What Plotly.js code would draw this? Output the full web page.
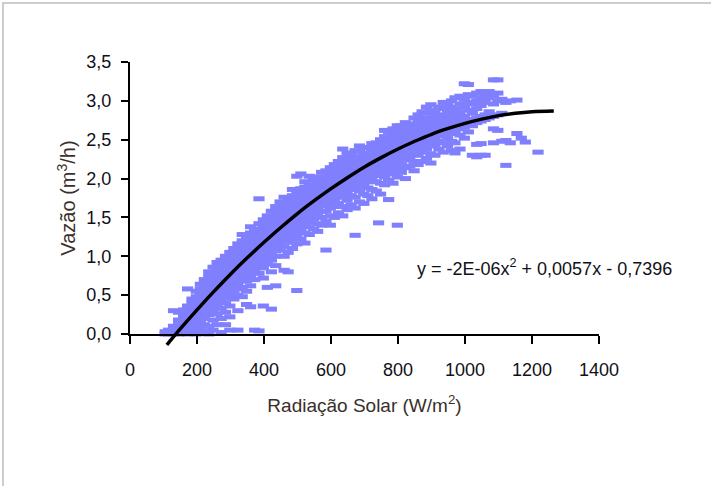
<!DOCTYPE html>
<html>
<head>
<meta charset="utf-8">
<script src="https://cdn.plot.ly/plotly-3.0.1.min.js"></script>
<style>
  html, body { margin: 0; padding: 0; background: #ffffff; }
  #wrap { position: relative; width: 711px; height: 486px; }
  #chart { width: 711px; height: 486px; }
  #frame { position: absolute; left: 2px; top: 2px; width: 709px; height: 484px;
           border-top: 2px solid #cdcdcd; border-left: 2px solid #cdcdcd;
           box-sizing: border-box; pointer-events: none; }
</style>
</head>
<body>
<div id="wrap"><div id="chart"></div><div id="frame"></div></div>
<script>
// Observed data columns: radiation value (W/m2) and the flow values measured there (m3/h)
const radiacao = [105,115,130,145,160,172,185,198,210,222,235,248,260,272,285,298,310,322,335,348,360,372,385,398,410,422,435,448,460,472,485,498,510,522,535,548,560,572,585,598,610,622,635,648,660,672,685,698,710,722,735,742,748,760,772,785,798,810,822,835,848,860,872,885,898,910,922,935,948,960,970,985,998,1010,1022,1035,1048,1060,1072,1085,1098,1110,1122,1135,1155,1168,1180,1218];
const vazao = [
  [0.0,0.03],
  [0.05,0.0],
  [0.0,0.04,0.10,0.30],
  [0.0,0.05,0.12,0.18,0.28],
  [0.02,0.08,0.14,0.20,0.25,0.31],
  [0.0,0.06,0.12,0.18,0.24,0.30,0.36,0.58],
  [0.02,0.10,0.16,0.22,0.28,0.34,0.40,0.45],
  [0.0,0.05,0.12,0.18,0.24,0.30,0.36,0.42,0.48,0.55],
  [0.02,0.08,0.15,0.22,0.28,0.34,0.40,0.46,0.52,0.58,0.64],
  [0.04,0.12,0.20,0.27,0.33,0.39,0.45,0.51,0.57,0.63,0.70],
  [0.0,0.10,0.25,0.32,0.38,0.44,0.50,0.56,0.62,0.68,0.74,0.80],
  [0.05,0.18,0.30,0.37,0.43,0.49,0.55,0.61,0.67,0.73,0.79,0.86],
  [0.12,0.26,0.36,0.42,0.48,0.54,0.60,0.66,0.72,0.78,0.84,0.92],
  [0.02,0.20,0.33,0.45,0.51,0.57,0.63,0.69,0.75,0.81,0.87,0.95],
  [0.12,0.28,0.40,0.50,0.56,0.62,0.68,0.74,0.80,0.86,0.92,1.00],
  [0.05,0.22,0.36,0.46,0.55,0.61,0.67,0.73,0.79,0.85,0.91,0.97,1.05],
  [0.45,0.52,0.60,0.66,0.72,0.78,0.84,0.90,0.96,1.02,1.10],
  [0.05,0.30,0.50,0.58,0.65,0.71,0.77,0.83,0.89,0.95,1.01,1.08,1.16],
  [0.48,0.60,0.70,0.76,0.82,0.88,0.94,1.00,1.06,1.12,1.20,1.28],
  [0.38,0.55,0.68,0.75,0.81,0.87,0.93,0.99,1.05,1.11,1.17,1.25],
  [0.35,0.62,0.74,0.80,0.86,0.92,0.98,1.04,1.10,1.16,1.22,1.30,1.38],
  [0.05,0.70,0.80,0.86,0.92,0.98,1.04,1.10,1.16,1.22,1.28,1.35],
  [0.04,0.78,0.86,0.92,0.98,1.04,1.10,1.16,1.22,1.28,1.34,1.42,1.74],
  [0.36,0.72,0.85,0.92,0.98,1.04,1.10,1.16,1.22,1.28,1.34,1.40,1.47],
  [0.60,0.90,0.98,1.04,1.10,1.16,1.22,1.28,1.34,1.40,1.46,1.52],
  [0.32,0.80,0.95,1.02,1.08,1.14,1.20,1.26,1.32,1.38,1.44,1.50,1.58],
  [0.62,0.88,1.00,1.07,1.13,1.19,1.25,1.31,1.37,1.43,1.49,1.56,1.64],
  [1.08,1.15,1.21,1.27,1.33,1.39,1.45,1.51,1.57,1.63,1.70],
  [0.82,1.00,1.12,1.19,1.25,1.31,1.37,1.43,1.49,1.55,1.61,1.68,1.76],
  [0.80,1.05,1.18,1.24,1.30,1.36,1.42,1.48,1.54,1.60,1.66,1.73],
  [1.10,1.22,1.28,1.34,1.40,1.46,1.52,1.58,1.64,1.70,1.78,1.86],
  [0.56,1.16,1.26,1.33,1.39,1.45,1.51,1.57,1.63,1.69,1.75,1.82,2.03],
  [1.22,1.32,1.38,1.44,1.50,1.56,1.62,1.68,1.74,1.80,1.87,2.06],
  [1.17,1.30,1.40,1.46,1.52,1.58,1.64,1.70,1.76,1.82,1.89,1.96],
  [1.28,1.38,1.44,1.50,1.56,1.62,1.68,1.74,1.80,1.86,1.92,2.03],
  [1.35,1.48,1.55,1.61,1.67,1.73,1.79,1.85,1.91,1.98],
  [1.32,1.42,1.52,1.59,1.65,1.71,1.77,1.83,1.89,1.95,2.02],
  [1.40,1.50,1.58,1.65,1.71,1.77,1.83,1.89,1.95,2.01,2.08],
  [1.08,1.45,1.58,1.66,1.72,1.78,1.84,1.90,1.96,2.02,2.10],
  [1.40,1.52,1.62,1.70,1.76,1.82,1.88,1.94,2.00,2.06,2.14],
  [1.50,1.64,1.74,1.80,1.86,1.92,1.98,2.04,2.10,2.18],
  [1.56,1.68,1.78,1.84,1.90,1.96,2.02,2.08,2.14,2.22],
  [1.52,1.64,1.76,1.83,1.89,1.95,2.01,2.07,2.13,2.20,2.27,2.38],
  [1.60,1.72,1.82,1.88,1.94,2.00,2.06,2.12,2.18,2.25,2.33],
  [1.66,1.78,1.86,1.93,1.99,2.05,2.11,2.17,2.23,2.30],
  [1.27,1.62,1.76,1.86,1.92,1.98,2.04,2.10,2.16,2.22,2.28,2.36],
  [1.70,1.84,1.92,1.98,2.04,2.10,2.16,2.22,2.28,2.35,2.42],
  [1.68,1.80,1.90,1.97,2.03,2.09,2.15,2.21,2.27,2.33,2.40],
  [1.78,1.88,1.96,2.02,2.08,2.14,2.20,2.26,2.32,2.40],
  [1.74,1.86,1.96,2.02,2.08,2.14,2.20,2.26,2.32,2.38,2.45],
  [1.84,1.96,2.04,2.10,2.16,2.22,2.28,2.34,2.40,2.46],
  [1.43],
  [1.80,1.94,2.04,2.12,2.18,2.24,2.30,2.36,2.42,2.50],
  [1.92,2.02,2.10,2.16,2.22,2.28,2.34,2.40,2.46,2.54,2.62],
  [1.73,1.98,2.08,2.16,2.22,2.28,2.34,2.40,2.46,2.52,2.60],
  [1.94,2.06,2.14,2.22,2.28,2.34,2.40,2.46,2.52,2.58,2.64],
  [1.40,2.02,2.12,2.20,2.26,2.32,2.38,2.44,2.50,2.56,2.62,2.68],
  [2.08,2.18,2.26,2.32,2.38,2.44,2.50,2.56,2.62,2.68],
  [2.00,2.14,2.24,2.30,2.36,2.42,2.48,2.54,2.60,2.66,2.72],
  [2.16,2.26,2.34,2.40,2.46,2.52,2.58,2.64,2.70],
  [2.10,2.22,2.32,2.40,2.46,2.52,2.58,2.64,2.70,2.78],
  [2.18,2.30,2.38,2.44,2.50,2.56,2.62,2.68,2.74,2.82],
  [2.22,2.34,2.42,2.48,2.54,2.60,2.66,2.72,2.78,2.86],
  [2.26,2.38,2.46,2.52,2.58,2.64,2.70,2.76,2.84,2.92],
  [2.20,2.32,2.44,2.52,2.58,2.64,2.70,2.78,2.88,2.95],
  [2.30,2.42,2.50,2.56,2.62,2.68,2.74,2.80,2.86],
  [2.38,2.48,2.56,2.62,2.68,2.74,2.82,2.92],
  [2.34,2.46,2.55,2.61,2.67,2.73,2.80,2.90,2.98],
  [2.42,2.52,2.60,2.66,2.72,2.78,2.86,2.94],
  [2.36,2.48,2.58,2.64,2.70,2.76,2.84,2.92,3.00],
  [2.33,2.46,2.60,2.66,2.72,2.80,2.90,3.04],
  [2.38,2.56,2.64,2.70,2.76,2.86,2.96,3.06],
  [2.52,2.66,2.72,2.80,2.92,3.02,3.22],
  [2.60,2.70,2.76,2.88,2.98,3.08,3.21],
  [2.30,2.68,2.74,2.84,2.96,3.06],
  [2.28,2.44,2.72,2.78,2.90,3.00,3.10],
  [2.30,2.45,2.74,2.80,2.94,3.04,3.12],
  [2.30,2.76,2.82,2.98,3.08],
  [2.78,2.86,3.04,3.12],
  [2.46,2.64,2.80,2.96,3.06,3.27],
  [2.62,2.82,3.00,3.10,3.27],
  [2.48,2.84,3.02],
  [2.17,2.49,2.98],
  [2.46,3.00],
  [2.58,3.01],
  [2.52],
  [2.47],
  [2.34]
];
// Polynomial trendline
const tendenciaX = [110,150,200,250,300,350,400,450,500,550,600,650,700,750,800,850,900,950,1000,1050,1100,1150,1200,1265];
const tendenciaY = [-0.14,0.065,0.31,0.545,0.77,0.98,1.18,1.37,1.55,1.715,1.87,2.015,2.15,2.27,2.38,2.48,2.57,2.645,2.71,2.765,2.81,2.84,2.86,2.87];
const xTicks = [0,200,400,600,800,1000,1200,1400];
const yTicks = [0,0.5,1,1.5,2,2.5,3,3.5];
const equacao = 'y = -2E-06x<sup>2</sup> + 0,0057x - 0,7396';

const ptsX = [], ptsY = [];
radiacao.forEach((r, i) => vazao[i].forEach(v => { ptsX.push(r); ptsY.push(v); }));

const yLow = -3.5 * 12 / 272;
const tickFont = {family: 'Liberation Sans, Arial, sans-serif', size: 18, color: '#101018'};
const titleFont = {family: 'Liberation Sans, Arial, sans-serif', size: 19, color: '#3a2f2a'};

const traces = [
  {x: ptsX, y: ptsY, xaxis: 'x', yaxis: 'y', type: 'scatter', mode: 'markers', cliponaxis: false,
   marker: {symbol: 'line-ew', size: 8, color: '#8080ff', line: {color: '#8080ff', width: 5}},
   hoverinfo: 'skip', showlegend: false},
  {x: tendenciaX, y: tendenciaY, xaxis: 'x', yaxis: 'y2', type: 'scatter', mode: 'lines',
   line: {color: '#000000', width: 3.5, shape: 'spline'}, hoverinfo: 'skip', showlegend: false}
];

const layout = {
  width: 711, height: 486,
  margin: {l: 130, r: 112, t: 62, b: 140},
  paper_bgcolor: '#ffffff', plot_bgcolor: 'rgba(0,0,0,0)',
  separators: ',.',
  showlegend: false,
  xaxis: {range: [0, 1400], tickvals: xTicks, ticks: 'outside', ticklen: 8, tickwidth: 2, tickcolor: '#000',
          showline: true, linewidth: 2, linecolor: '#000', showgrid: false, zeroline: false,
          anchor: 'y', tickfont: tickFont, ticklabelstandoff: 10,
          title: {text: 'Radiação Solar (W/m<sup>2</sup>)', font: titleFont, standoff: 20}},
  xaxis3: {range: [0, 1400], tickvals: xTicks, ticks: 'inside', ticklen: 7, tickwidth: 2, tickcolor: '#000',
           overlaying: 'x', anchor: 'y', showticklabels: false, showline: false, showgrid: false, zeroline: false},
  yaxis: {range: [0, 3.5], domain: [12/284, 1], tickvals: yTicks, tickformat: '.1f',
          ticks: 'outside', ticklen: 7, tickwidth: 2, tickcolor: '#000',
          showline: true, linewidth: 2, linecolor: '#000', showgrid: false, zeroline: false,
          anchor: 'x', tickfont: tickFont, ticklabelstandoff: 6,
          title: {text: 'Vazão (m<sup>3</sup>/h)', font: {family: 'Liberation Sans, Arial, sans-serif', size: 20, color: '#3a2f2a'}, standoff: 5}},
  yaxis3: {range: [0, 3.5], tickvals: yTicks, ticks: 'inside', ticklen: 7, tickwidth: 2, tickcolor: '#000',
           overlaying: 'y', anchor: 'x', showticklabels: false, showline: false, showgrid: false, zeroline: false},
  yaxis2: {range: [yLow, 3.5], domain: [0, 1], visible: false, anchor: 'x', showgrid: false, zeroline: false},
  annotations: [{x: 851, y: 0.85, xref: 'x', yref: 'y', xanchor: 'left', yanchor: 'middle',
                 text: equacao, showarrow: false,
                 font: {family: 'Liberation Sans, Arial, sans-serif', size: 18, color: '#101018'}}]
};

Plotly.newPlot('chart', traces, layout, {staticPlot: true, displayModeBar: false});
</script>
</body>
</html>
